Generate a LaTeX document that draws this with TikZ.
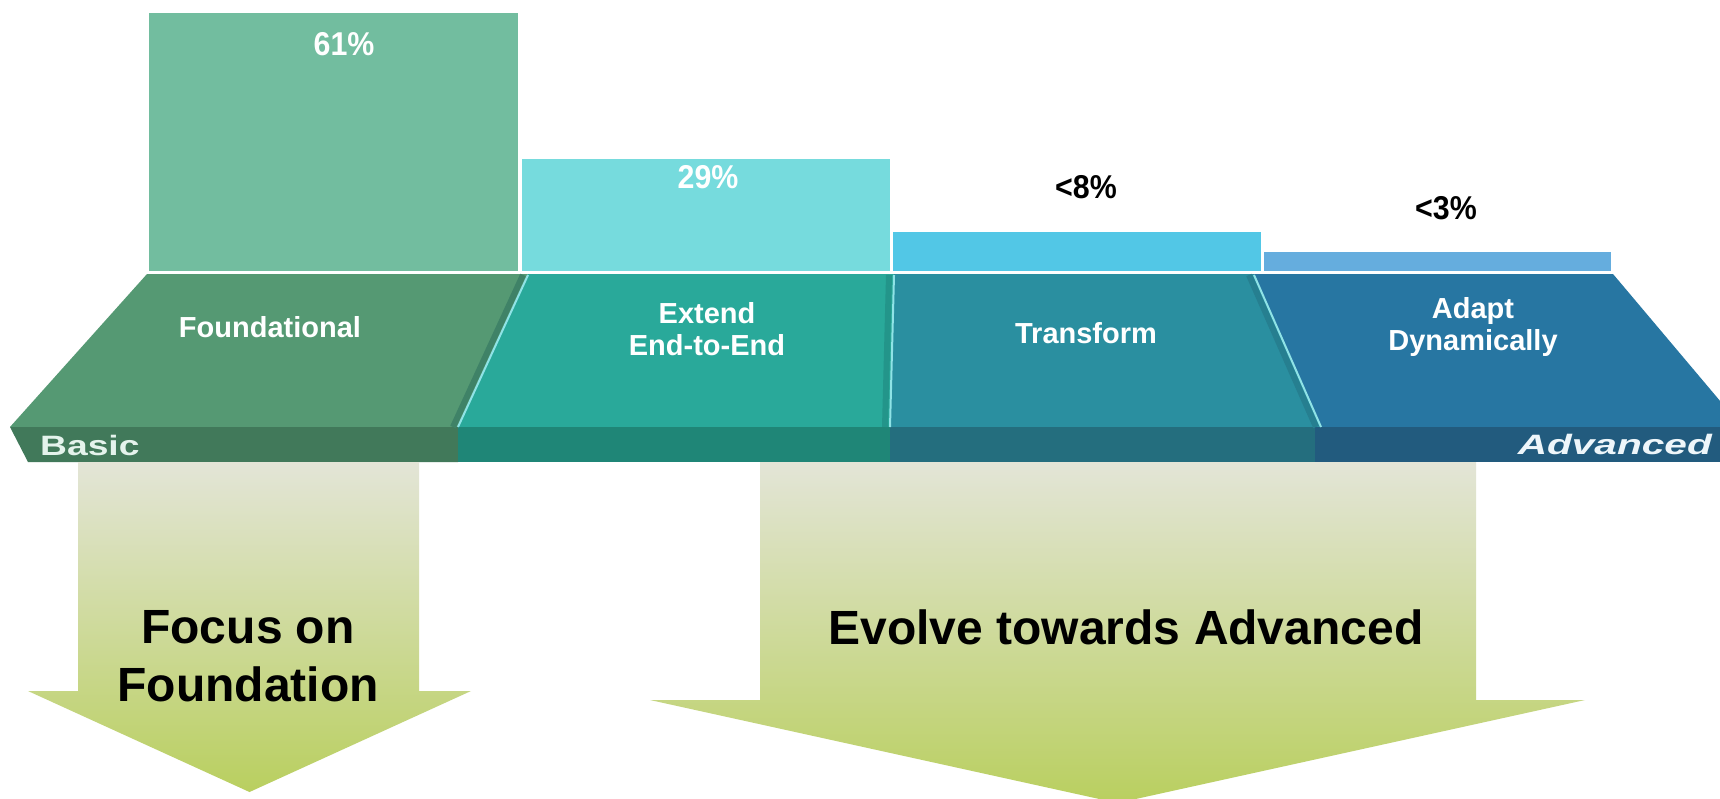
\documentclass[tikz,border=0pt]{standalone}
\usepackage{fontspec}
\setmainfont{Liberation Sans}
\usepackage{graphicx}
\definecolor{barA}{HTML}{72BD9F}
\definecolor{barB}{HTML}{76DBDD}
\definecolor{barC}{HTML}{52C7E6}
\definecolor{barD}{HTML}{65ADDE}
\definecolor{topA}{HTML}{559973}
\definecolor{topB}{HTML}{29A99A}
\definecolor{topC}{HTML}{2A8FA0}
\definecolor{topD}{HTML}{2776A2}
\definecolor{frA}{HTML}{41795A}
\definecolor{frB}{HTML}{1F8677}
\definecolor{frC}{HTML}{246E7E}
\definecolor{frD}{HTML}{225B7E}
\definecolor{edgeLight}{HTML}{8FE3E6}
\definecolor{arTop}{HTML}{E3E5D7}
\definecolor{arBot}{HTML}{B9CF5F}
\definecolor{basicTxt}{HTML}{E4F3EC}
\definecolor{advTxt}{HTML}{EEF6FA}
\definecolor{darkA}{HTML}{3F8267}
\definecolor{darkB}{HTML}{23958A}
\definecolor{darkC}{HTML}{267F90}
\begin{document}
\begin{tikzpicture}[x=1pt,y=-1pt,
  seglabel/.style={text=white, inner sep=0pt, font=\fontsize{29}{32}\selectfont\bfseries, align=center},
  pct/.style={inner sep=0pt, font=\fontsize{33}{36}\selectfont\bfseries},
  bigtext/.style={inner sep=0pt, font=\fontsize{48}{58}\selectfont\bfseries, align=center},
  endlabel/.style={inner sep=0pt, font=\fontsize{28}{30}\selectfont\bfseries},
  bigarrow/.style={top color=arTop, bottom color=arBot, draw=none},
  divlight/.style={draw=edgeLight, line width=2pt},
  divdark/.style={line width=6pt}
]
\useasboundingbox (0,0) rectangle (1720,798);
\clip (0,0) rectangle (1720,798);
\fill[white] (0,0) rectangle (1720,798);

% bars
\fill[barA] (149,13) rectangle (518,271);
\fill[barB] (522,159) rectangle (890,271);
\fill[barC] (893,232) rectangle (1261,271);
\fill[barD] (1264,252) rectangle (1611,271);

% top face
\fill[topA] (147,274) -- (528,274) -- (458,427) -- (10,427) -- cycle;
\fill[topB] (528,274) -- (894,274) -- (890,427) -- (458,427) -- cycle;
\fill[topC] (894,274) -- (1254,274) -- (1321,427) -- (890,427) -- cycle;
\fill[topD] (1254,274) -- (1613,274) -- (1742,427) -- (1321,427) -- cycle;

% front band
\fill[frA] (10,427) -- (458,427) -- (458,462) -- (28,462) -- cycle;
\fill[frB] (458,427) rectangle (890,462);
\fill[frC] (890,427) rectangle (1315,462);
\fill[frD] (1315,427) rectangle (1720,462);

% dividers
\draw[divdark, draw=darkA] (523,275) -- (453,427);
\draw[divlight] (528,275) -- (458,427);
\draw[divdark, draw=darkB] (889,275) -- (885,427);
\draw[divlight] (894,275) -- (890,427);
\draw[divdark, draw=darkC] (1249,275) -- (1316,427);
\draw[divlight] (1254,275) -- (1321,427);

% arrows
\path[bigarrow] (78,462) -- (419,462) -- (419,691) -- (471,691) -- (249.5,792) -- (28,691) -- (78,691) -- cycle;
\path[bigarrow] (760,462) -- (1476,462) -- (1476,700) -- (1585,700) -- (1117.5,803) -- (650,700) -- (760,700) -- cycle;

% percentages
\node[pct, text=white] (p61) at (344,44) {\scalebox{0.92}[1]{61\%}};
\node[pct, text=white] (p29) at (708,177) {\scalebox{0.92}[1]{29\%}};
\node[pct, text=black] (p8) at (1086,187) {\scalebox{0.92}[1]{<8\%}};
\node[pct, text=black] (p3) at (1446,208) {\scalebox{0.92}[1]{<3\%}};

% segment labels
\node[seglabel] (s1) at (270,327) {Foundational};
\node[seglabel] (s2) at (707,329) {Extend\\End-to-End};
\node[seglabel] (s3) at (1086,333) {Transform};
\node[seglabel] (s4) at (1473,327) {Adapt\\Dynamically};

% ends
\node[endlabel, text=basicTxt, anchor=base west] (basic) at (40,455) {\scalebox{1.33}[1]{Basic}};
\node[endlabel, text=advTxt, anchor=base east, font=\fontsize{28}{30}\selectfont\bfseries\itshape] (adv) at (1712,454) {\scalebox{1.45}[1]{Advanced}};

% bottom texts
\node[bigtext] (focus) at (248,656) {Focus on\\Foundation};
\node[bigtext] (evolve) at (1126,627) {Evolve towards Advanced};
\end{tikzpicture}
\end{document}
